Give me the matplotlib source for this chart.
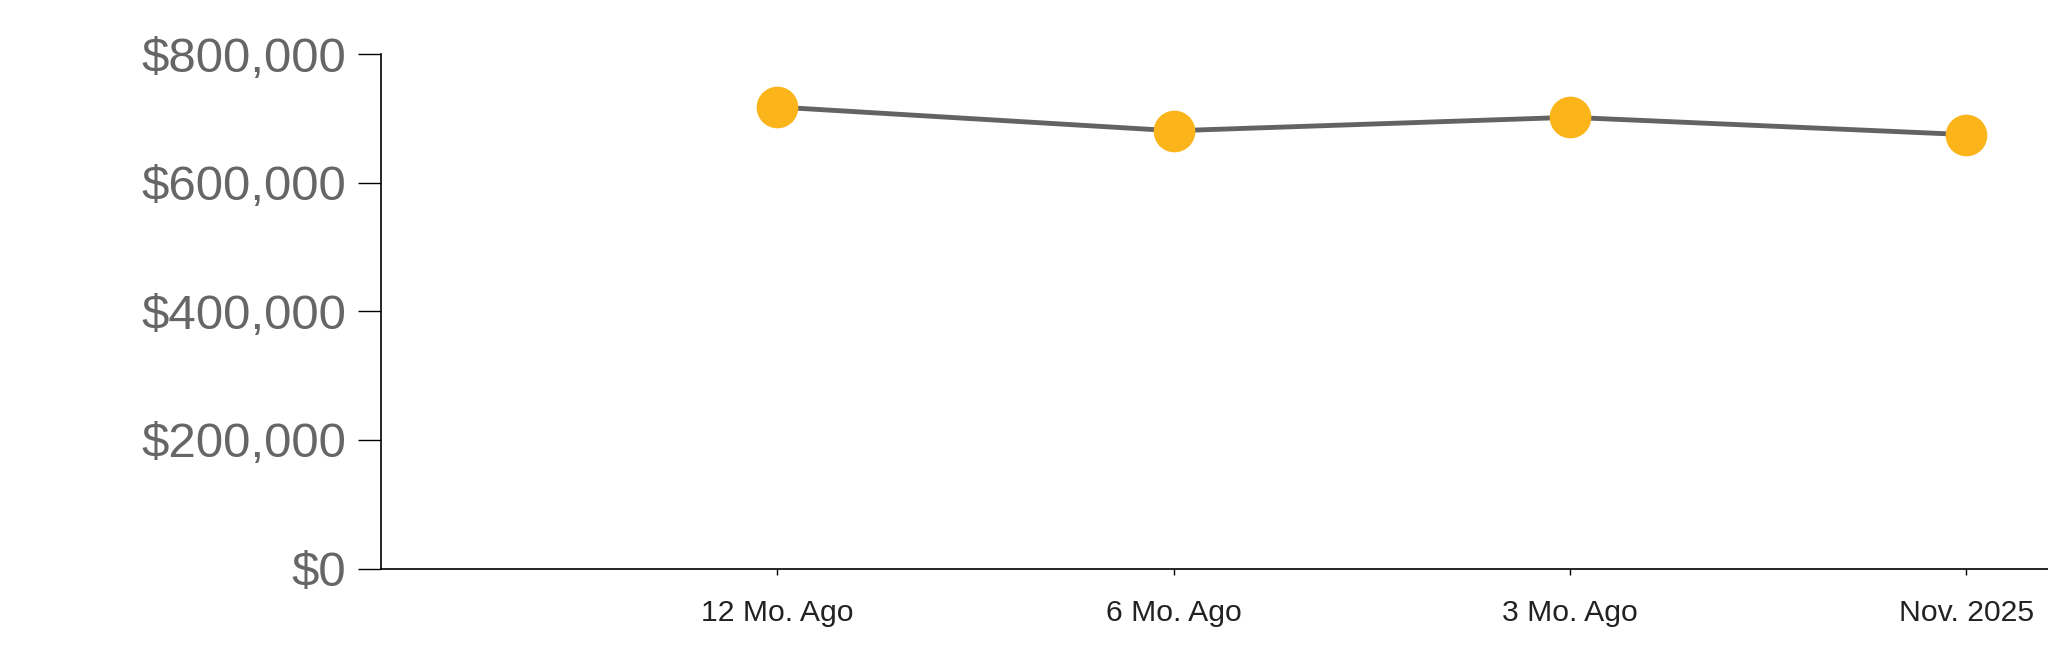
import matplotlib
matplotlib.use("Agg")
from matplotlib import pyplot as plt
from matplotlib.ticker import FuncFormatter

plt.rcParams['font.family'] = ['Liberation Sans', 'DejaVu Sans']

labels = ["12 Mo. Ago", "6 Mo. Ago", "3 Mo. Ago", "Nov. 2025"]
positions = [1, 2, 3, 4]
values = [718000, 681000, 702000, 675000]
yticks = [0, 200000, 400000, 600000, 800000]

fig = plt.figure(figsize=(20.48, 6.63), dpi=100)
ax = fig.add_axes([381 / 2048, (663 - 568.5) / 663, 1 - 381 / 2048, (568.5 - 54.3) / 663])

ax.plot(positions, values, color="#636363", lw=3.5, zorder=2)
ax.plot(positions, values, "o", color="#FBB41A", markersize=30, markeredgewidth=0, zorder=3)

ax.set_xlim(0, 4.206)
ax.set_ylim(0, 800000)
ax.set_xticks(positions)
ax.set_xticklabels(labels)
ax.set_yticks(yticks)
ax.yaxis.set_major_formatter(FuncFormatter(lambda v, p: "${:,.0f}".format(v)))

ax.spines["top"].set_visible(False)
ax.spines["right"].set_visible(False)
for s in ("left", "bottom"):
    ax.spines[s].set_linewidth(1.2)
    ax.spines[s].set_color("black")

ax.tick_params(axis="y", length=16.5, width=1, pad=8.5, labelsize=35.5, labelcolor="#666666")
ax.tick_params(axis="x", length=4.5, width=1, pad=17.5, labelsize=21.7, labelcolor="#222222")

fig.savefig("out.png", dpi=100)
